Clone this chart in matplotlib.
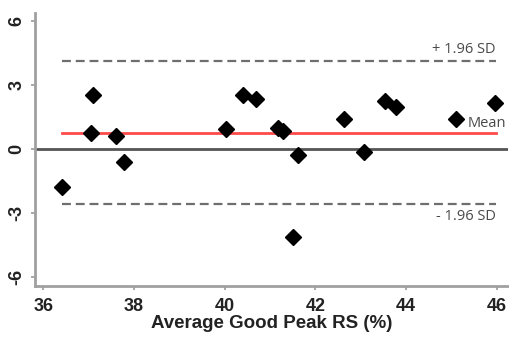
#!/usr/bin/env python
"""Bland-Altman style plot: difference vs average good peak RS."""
import matplotlib
matplotlib.use("Agg")
import matplotlib.pyplot as plt

avg_rs = [36.42, 37.10, 37.06, 37.60, 37.78, 40.03, 40.40, 40.69, 41.17,
          41.28, 41.62, 42.63, 43.07, 43.53, 43.78, 45.10, 45.96, 41.51]
diff = [-1.78, 2.54, 0.75, 0.61, -0.61, 0.94, 2.54, 2.35, 0.98,
        0.85, -0.28, 1.41, -0.14, 2.25, 1.97, 1.41, 2.16, -4.13]
mean_diff = 0.77
upper_loa = 4.13
lower_loa = -2.58
line_span = (36.42, 45.98)
yticks = [-6, -3, 0, 3, 6]
xticks = [36, 38, 40, 42, 44, 46]

plt.rcParams["font.family"] = ["Liberation Sans", "DejaVu Sans"]

fig = plt.figure(figsize=(5.1, 3.38), dpi=100)
ax = fig.add_axes([0.069, 0.154, 0.927, 0.808])

ax.axhline(0, color="#555555", lw=2.0, zorder=1)
ax.plot(line_span, [mean_diff] * 2, color="#ff4a4a", lw=2.0, zorder=2)
for v in (upper_loa, lower_loa):
    ax.plot(line_span, [v] * 2, color="#6e6e6e", lw=1.6, ls=(0, (4, 2.2)), zorder=2)

ax.plot(avg_rs, diff, ls="none", marker="D", ms=8, color="black", zorder=5)

lab = dict(color="#4a4a4a", fontsize=10.5, family=["Open Sans", "DejaVu Sans"], ha="right")
ax.text(line_span[1], upper_loa + 0.2, "+ 1.96 SD", va="bottom", **lab)
ax.text(46.2, mean_diff + 0.1, "Mean", va="bottom", **lab)
ax.text(line_span[1], lower_loa - 0.25, "- 1.96 SD", va="top", **lab)

ax.set_xlim(35.82, 46.25)
ax.set_ylim(-6.42, 6.4)
ax.set_xticks(xticks)
ax.set_yticks(yticks)
ax.set_yticklabels([str(t) for t in yticks], rotation=90, va="center")
ax.tick_params(labelsize=13, colors="#9a9a9a", length=3, width=1.2, pad=4)
ax.tick_params(axis="x", pad=6)
for t in ax.get_xticklabels() + ax.get_yticklabels():
    t.set_color("#222222")
    t.set_fontweight("bold")
for s in ("top", "right"):
    ax.spines[s].set_visible(False)
for s in ("left", "bottom"):
    ax.spines[s].set_color("#a0a0a0")
    ax.spines[s].set_linewidth(2)
ax.set_xlabel("Average Good Peak RS (%)", fontsize=13.5, fontweight="bold",
              color="#222222", labelpad=0)

fig.savefig("out.png", dpi=100)
